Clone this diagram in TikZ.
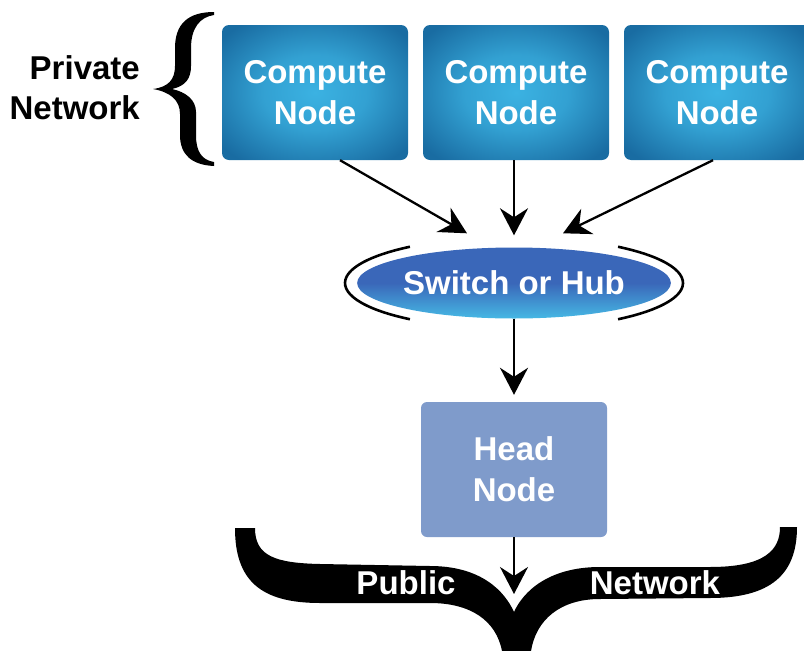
\documentclass[tikz,border=0pt]{standalone}
\usepackage{fontspec}
\setmainfont{Liberation Sans}
\usetikzlibrary{shapes.geometric,arrows.meta,calc}

\definecolor{deepblue}{HTML}{196CA2}
\definecolor{cyanglow}{HTML}{3BB2E2}
\definecolor{hubtop}{HTML}{3A67B9}
\definecolor{hubglow}{HTML}{46B8E4}
\definecolor{headblue}{HTML}{7F9BCB}

%% soft glow for the compute boxes
\pgfdeclareradialshading{boxglow}{\pgfpoint{0bp}{0bp}}{%
  color(0bp)=(cyanglow); color(14bp)=(cyanglow!75!deepblue);
  color(32bp)=(deepblue); color(50bp)=(deepblue)}

\begin{document}
\begin{tikzpicture}[x=1pt,y=-1pt,
    every node/.style={font=\fontsize{33}{41}\selectfont\bfseries,align=center,inner sep=0pt},
    compute/.style={rectangle,rounded corners=7pt,minimum width=186pt,minimum height=135pt,
        shading=boxglow,text=white},
    hub/.style={ellipse,minimum width=305pt,minimum height=71pt,
        top color=hubtop,bottom color=hubglow,middle color=hubtop,text=white},
    head/.style={rectangle,rounded corners=6pt,minimum width=186pt,minimum height=135pt,
        fill=headblue,text=white},
    conn/.style={line width=2.3pt,-{Stealth[length=27pt,width=28pt,inset=9pt]}},
    ring/.style={line width=2.6pt},
  ]
  \useasboundingbox (0,0) rectangle (804,651);
  \clip (0,0) rectangle (804,651);

  %% cluster nodes
  \node[compute] (cn1) at (315,92.5) {Compute\\Node};
  \node[compute] (cn2) at (516,92.5) {Compute\\Node};
  \node[compute] (cn3) at (717,92.5) {Compute\\Node};

  \node[hub] (sw) at (514,283) {Switch or Hub};
  \node[head] (head) at (514,469.5) {Head\\Node};

  %% rings round the switch
  \draw[ring] (sw.center) ++(128:169 and 46) arc[start angle=128,end angle=232,x radius=169,y radius=46];
  \draw[ring] (sw.center) ++(-52:169 and 46) arc[start angle=-52,end angle=52,x radius=169,y radius=46];

  %% private network brace
  \node[anchor=east,align=right,font=\fontsize{33}{40}\selectfont\bfseries] (priv) at (140,88) {Private\\Network};
  \fill (214,12) .. controls (188,12) and (175,24) .. (175,48) -- (175,66)
    .. controls (175,80) and (168,87) .. (153,89)
    .. controls (170,92) and (180,100) .. (180,114) -- (180,135)
    .. controls (180,155) and (192,165) .. (214,166)
    -- (214,162) .. controls (202,160) and (196,152) .. (196,135) -- (196,112)
    .. controls (196,100) and (186,92) .. (172,89)
    .. controls (186,86) and (191,78) .. (191,66) -- (191,48)
    .. controls (191,28) and (200,17) .. (214,15) -- cycle;

  %% public network brace
  \fill (235,528) -- (255,528)
    .. controls (255,556) and (275,563) .. (320,564) -- (430,566)
    .. controls (482,566) and (505,592) .. (514,612)
    .. controls (523,592) and (548,567) .. (600,567) -- (710,567)
    .. controls (765,567) and (780,550) .. (780,527) -- (797,527)
    .. controls (797,575) and (770,598) .. (710,598) -- (600,599)
    .. controls (560,599) and (536,620) .. (531,651) -- (502,651)
    .. controls (496,620) and (470,603) .. (430,603) -- (320,603)
    .. controls (260,603) and (235,580) .. (235,528) -- cycle;
  \node[text=white] (pub) at (406,583) {Public};
  \node[text=white] (net) at (655,583) {Network};

  %% connectors
  \coordinate (tipL) at ($(sw.north)+(-47,-14)$);
  \coordinate (tipR) at ($(sw.north)+(49,-14)$);
  \coordinate (tipP) at (514,594);
  \draw[conn] ($(cn1.south)+(25,0)$) -- (tipL);
  \draw[conn,shorten >=12pt] (cn2.south -| sw.north) -- (sw.north);
  \draw[conn] ($(cn3.south)+(-4,0)$) -- (tipR);
  \draw[conn,shorten >=7pt] (sw.south) -- (head.north);
  \draw[conn] (head.south) -- (tipP);
\end{tikzpicture}
\end{document}
